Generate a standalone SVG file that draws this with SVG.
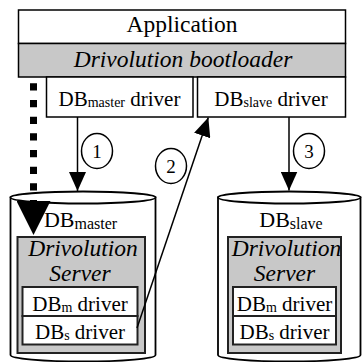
<svg xmlns="http://www.w3.org/2000/svg" width="362" height="362" viewBox="0 0 362 362">
<defs>
<style>
text{font-family:'Liberation Serif','Times New Roman',Times,serif;fill:#000;text-anchor:middle}
.box{fill:#fff;stroke:#000;stroke-width:1.5}
.gray{fill:#c8c8c8;stroke:#000;stroke-width:1.5}
.srv{fill:#c8c8c8;stroke:#222;stroke-width:2}
.inner{fill:#fff;stroke:#222;stroke-width:2}
.cyl{fill:#fff;stroke:#000;stroke-width:1.8}
.t23{font-size:23.5px}
.t21{font-size:21px}
.t22{font-size:22px}
.s14{font-size:14px}
.s16{font-size:16px}
.t19{font-size:19px}
.it{font-style:italic}
.num{fill:#fff;stroke:#000;stroke-width:1.5}
.conn{fill:none;stroke:#000;stroke-width:1.5}
</style>
<marker id="arr" markerUnits="userSpaceOnUse" viewBox="0 0 19 17" markerWidth="19" markerHeight="17" refX="19" refY="8.5" orient="auto">
<path d="M0,0 L19,8.5 L0,17 z" fill="#000"/>
</marker>
<marker id="bigarr" markerUnits="userSpaceOnUse" viewBox="0 0 34 34" markerWidth="34" markerHeight="34" refX="0" refY="17" orient="auto">
<path d="M0,0 L34,17 L0,34 z" fill="#000"/>
</marker>
</defs>

<g id="application">
<rect class="box" x="18.5" y="10" width="327" height="33.5"/>
<text class="t23" x="182" y="32">Application</text>
</g>
<g id="bootloader">
<rect class="gray" x="18.5" y="43.5" width="327" height="33.5"/>
<text class="t23 it" x="183" y="67">Drivolution bootloader</text>
</g>
<g id="master-driver">
<rect class="box" x="46.5" y="77" width="146.5" height="40"/>
<text class="t21" x="119.5" y="106">DB<tspan class="s14" dy="1">master</tspan><tspan dy="-1"> driver</tspan></text>
</g>
<g id="slave-driver">
<rect class="box" x="197.5" y="77" width="148" height="40"/>
<text class="t21" x="271" y="106">DB<tspan class="s14" dy="1">slave</tspan><tspan dy="-1"> driver</tspan></text>
</g>

<g id="db-master">
<path class="cyl" d="M10.5,197.5 V355 A72.5,6.5 0 0 0 155.5,355 V197.5 Z"/>
<ellipse class="cyl" cx="83" cy="197.5" rx="72.5" ry="6"/>
<text class="t22" x="80.5" y="227">DB<tspan class="s16" dy="2">master</tspan></text>
<rect class="srv" x="17.5" y="237" width="127.5" height="116"/>
<text class="t23 it" x="83" y="256">Drivolution</text>
<text class="t23 it" x="80" y="281">Server</text>
<rect class="inner" x="22.5" y="287" width="115" height="29"/>
<text class="t21" x="80" y="311">DB<tspan class="s14" dy="1">m</tspan><tspan dy="-1"> driver</tspan></text>
<rect class="inner" x="22.5" y="316" width="115" height="28.5"/>
<text class="t21" x="80" y="339">DB<tspan class="s14" dy="1">s</tspan><tspan dy="-1"> driver</tspan></text>
</g>

<g id="db-slave">
<path class="cyl" d="M218,197.5 V355 A71.25,6.5 0 0 0 360.5,355 V197.5 Z"/>
<ellipse class="cyl" cx="289.25" cy="197.5" rx="71.25" ry="6"/>
<text class="t22" x="291" y="227">DB<tspan class="s16" dy="2">slave</tspan></text>
<rect class="srv" x="228" y="237" width="113" height="116"/>
<text class="t23 it" x="286.5" y="256">Drivolution</text>
<text class="t23 it" x="284.5" y="281">Server</text>
<rect class="inner" x="233" y="287" width="103" height="29"/>
<text class="t21" x="284.5" y="311">DB<tspan class="s14" dy="1">m</tspan><tspan dy="-1"> driver</tspan></text>
<rect class="inner" x="233" y="316" width="103" height="28.5"/>
<text class="t21" x="284.5" y="339">DB<tspan class="s14" dy="1">s</tspan><tspan dy="-1"> driver</tspan></text>
</g>

<g id="connectors">
<line class="conn" x1="77.5" y1="117" x2="77.5" y2="191" marker-end="url(#arr)"/>
<line class="conn" x1="137" y1="328" x2="208.3" y2="117.5" marker-end="url(#arr)"/>
<line class="conn" x1="289" y1="117" x2="289" y2="190.5" marker-end="url(#arr)"/>
<line x1="33.5" y1="83.3" x2="33.5" y2="201" stroke="#000" stroke-width="7" stroke-dasharray="7.3 9.37" marker-end="url(#bigarr)"/>
</g>

<g id="step-1">
<ellipse class="num" cx="97" cy="151" rx="15.5" ry="17.5"/>
<text class="t19" x="97" y="158">1</text>
</g>
<g id="step-2">
<ellipse class="num" cx="171" cy="166" rx="15.5" ry="17.5"/>
<text class="t19" x="171" y="173">2</text>
</g>
<g id="step-3">
<ellipse class="num" cx="309" cy="151" rx="15.5" ry="17.5"/>
<text class="t19" x="309" y="158">3</text>
</g>
</svg>
